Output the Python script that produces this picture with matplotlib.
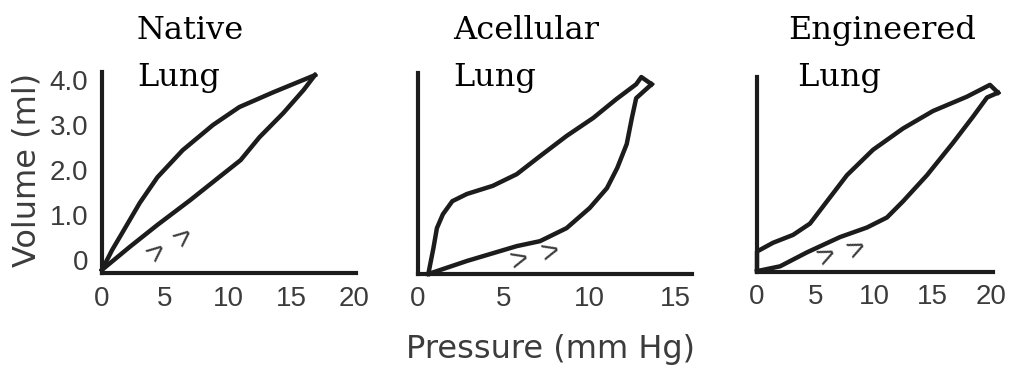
import matplotlib.pyplot as plt

# pressure (mm Hg) / volume (ml)
native_defl_p = [0, 0.8, 1.6, 3.0, 4.4, 6.4, 8.8, 10.9, 13.6, 16.9]
native_defl_v = [-0.22, 0.22, 0.60, 1.27, 1.84, 2.44, 3.00, 3.40, 3.73, 4.11]
native_infl_p = [0, 2.2, 4.4, 7.0, 9.2, 11.0, 12.5, 14.4, 16.0, 16.9]
native_infl_v = [-0.22, 0.29, 0.78, 1.33, 1.82, 2.22, 2.73, 3.27, 3.78, 4.11]

acell_defl_p = [0.6, 0.9, 1.1, 1.45, 2.0, 2.85, 4.35, 5.75, 7.1, 8.65, 10.2, 11.55, 12.7, 13.0, 13.6]
acell_defl_v = [-0.29, 0.29, 0.73, 1.04, 1.33, 1.49, 1.67, 1.93, 2.33, 2.78, 3.18, 3.60, 3.93, 4.09, 3.93]
acell_infl_p = [0.6, 2.85, 5.75, 7.1, 8.65, 10.0, 11.0, 11.6, 12.15, 12.45, 12.7, 13.6]
acell_infl_v = [-0.29, 0.0, 0.33, 0.44, 0.73, 1.18, 1.62, 2.07, 2.60, 3.18, 3.62, 3.93]

eng_defl_p = [0, 0, 1.37, 3.08, 4.53, 5.98, 7.69, 9.91, 12.48, 15.04, 17.95, 19.91, 20.6]
eng_defl_v = [-0.27, 0.18, 0.38, 0.56, 0.82, 1.33, 1.93, 2.51, 3.00, 3.40, 3.73, 4.00, 3.82]
eng_infl_p = [0, 1.97, 4.27, 7.09, 9.4, 11.11, 12.48, 14.53, 16.75, 18.46, 19.66, 20.6]
eng_infl_v = [-0.27, -0.16, 0.16, 0.51, 0.73, 0.96, 1.33, 1.93, 2.67, 3.27, 3.71, 3.82]

# direction chevrons (pressure, volume, rotation)
native_arrows = [(4.4, 0.16, 40), (6.6, 0.49, 40)]
acell_arrows = [(5.9, 0.0, 15), (7.7, 0.16, 15)]
eng_arrows = [(6.0, 0.04, 25), (8.6, 0.22, 25)]

titles = ["Native\nLung", "Acellular\nLung", "Engineered\n Lung"]
xticks = [[0, 5, 10, 15, 20], [0, 5, 10, 15], [0, 5, 10, 15, 20]]
yticks = [0, 1, 2, 3, 4]
ytick_labels = ["0", "1.0", "2.0", "3.0", "4.0"]

W, H = 1019, 365
# axes boxes in pixels: left, right, bottom, top
boxes = [(102, 356, 273, 72), (418, 692, 274, 73), (757, 993, 272, 77)]
xlims = [(0, 20.16), (0, 15.95), (0, 20.17)]
ylim = (-0.29, 4.18)
title_x = [137, 453, 788]

loops = [
    (native_defl_p, native_defl_v, native_infl_p, native_infl_v, native_arrows),
    (acell_defl_p, acell_defl_v, acell_infl_p, acell_infl_v, acell_arrows),
    (eng_defl_p, eng_defl_v, eng_infl_p, eng_infl_v, eng_arrows),
]

INK = "#1c1c1c"
GRAY = "#3c3c3c"
fig = plt.figure(figsize=(W / 100, H / 100), dpi=100)

for i, (dp, dv, ip, iv, arrows) in enumerate(loops):
    l, r, b, t = boxes[i]
    ax = fig.add_axes([l / W, (H - b) / H, (r - l) / W, (b - t) / H])
    ax.plot(dp, dv, color=INK, lw=3.2, solid_joinstyle="round", clip_on=False)
    ax.plot(ip, iv, color=INK, lw=3.2, solid_joinstyle="round", clip_on=False)
    for px, vy, rot in arrows:
        ax.text(px, vy, ">", fontsize=22, color=GRAY, family="Liberation Sans",
                rotation=rot, ha="center", va="center")
    ax.set_xlim(*xlims[i])
    ax.set_ylim(*ylim)
    for s in ["top", "right"]:
        ax.spines[s].set_visible(False)
    for s in ["left", "bottom"]:
        ax.spines[s].set_linewidth(3)
        ax.spines[s].set_color(INK)
    ax.set_xticks(xticks[i])
    ax.tick_params(axis="x", length=0, pad=9, labelsize=20, labelcolor=GRAY)
    if i == 0:
        ax.set_yticks(yticks)
        ax.set_yticklabels(ytick_labels)
        ax.tick_params(axis="y", length=0, pad=10, labelsize=20, labelcolor=GRAY)
    else:
        ax.set_yticks([])
    for lbl in ax.get_xticklabels() + ax.get_yticklabels():
        lbl.set_family("Liberation Sans")
    ax.patch.set_alpha(0)
    fig.text(title_x[i] / W, (H - 86) / H, titles[i], fontsize=23,
             family="DejaVu Serif", ha="left", va="baseline", linespacing=1.68)

fig.text(551 / W, (H - 358) / H, "Pressure (mm Hg)", fontsize=23, color=GRAY,
         ha="center", va="baseline")
fig.text(27 / W, (H - 170) / H, "Volume (ml)", fontsize=23, color=GRAY,
         rotation=90, ha="center", va="center")

fig.savefig("out.png", dpi=100)
